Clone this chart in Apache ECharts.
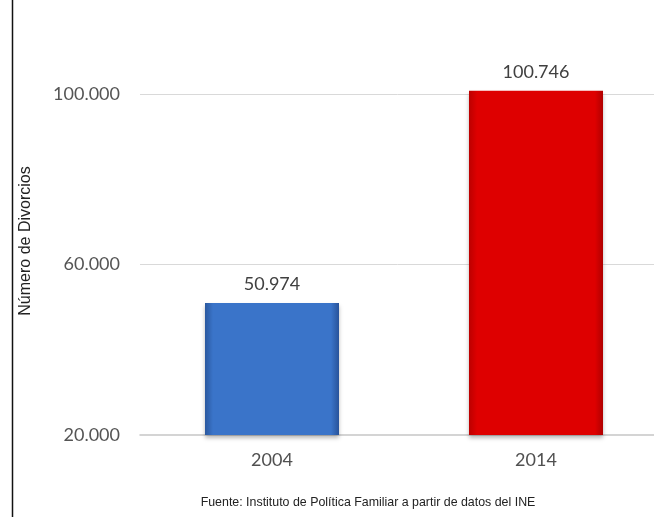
<!DOCTYPE html>
<html>
<head>
<meta charset="utf-8">
<script src="https://cdn.jsdelivr.net/npm/echarts@6/dist/echarts.min.js"></script>
<style>
html,body{margin:0;padding:0;background:#fff;}
#chart{width:654px;height:517px;}
</style>
</head>
<body>
<div id="chart"></div>
<script>
// Data
const categories = ['2004', '2014'];
const divorces = [50974, 100746];
const barColors = [
  ['#2a589e', '#3a74c9', '#3a74c9', '#28539a'],
  ['#bc0000', '#de0000', '#de0000', '#b00000']
];
const yTicks = [20000, 60000, 100000];
const yTitle = 'Número de Divorcios';
const sourceText = 'Fuente: Instituto de Política Familiar a partir de datos del INE';

function fmt(v) {
  return String(Math.round(v)).replace(/\B(?=(\d{3})+(?!\d))/g, '.');
}

const chart = echarts.init(document.getElementById('chart'));
const seriesData = divorces.map((v, i) => ({
  value: v,
  itemStyle: {
    color: new echarts.graphic.LinearGradient(0, 0, 1, 0, [
      {offset: 0, color: barColors[i][0]},
      {offset: 0.06, color: barColors[i][1]},
      {offset: 0.94, color: barColors[i][2]},
      {offset: 1, color: barColors[i][3]}
    ])
  }
}));

chart.setOption({
  animation: false,
  backgroundColor: '#ffffff',
  grid: {left: 140, top: 8.75, width: 528, bottom: 82, containLabel: false, outerBoundsMode: 'none'},
  xAxis: {
    type: 'category',
    data: categories,
    axisLine: {show: true, lineStyle: {color: '#c6c6c6', width: 1.5}},
    axisTick: {show: false},
    axisLabel: {fontFamily: 'Lato', fontSize: 18, color: '#505050', margin: 16}
  },
  yAxis: {
    type: 'value',
    min: yTicks[0],
    max: 120000,
    interval: yTicks[1] - yTicks[0],
    axisLine: {show: false},
    axisTick: {show: false},
    axisLabel: {
      fontFamily: 'Lato', fontSize: 18, color: '#555555', margin: 20,
      showMaxLabel: false,
      formatter: fmt
    },
    splitLine: {show: true, showMaxLine: false, showMinLine: false, lineStyle: {color: '#d9d9d9', width: 1}}
  },
  graphic: [
    {
      type: 'line', silent: true,
      shape: {x1: 12.5, y1: 0, x2: 12.5, y2: 517},
      style: {stroke: '#111', lineWidth: 1.5}
    },
    {
      type: 'text', silent: true,
      x: 26, y: 241, rotation: Math.PI / 2,
      style: {text: yTitle, fontFamily: 'Liberation Sans, Arial', fontSize: 16, fill: '#222',
              align: 'center', verticalAlign: 'middle'}
    },
    {
      type: 'text', silent: true,
      x: 368, y: 503,
      style: {text: sourceText, fontFamily: 'Liberation Sans, Arial', fontSize: 12.4, fill: '#222',
              align: 'center', verticalAlign: 'middle'}
    }
  ],
  series: [{
    type: 'bar',
    data: seriesData,
    barWidth: 134,
    itemStyle: {
      shadowColor: 'rgba(0,0,0,0.28)',
      shadowBlur: 4,
      shadowOffsetY: 3
    },
    label: {
      show: true,
      position: 'top',
      distance: 10,
      fontFamily: 'Lato',
      fontSize: 18,
      color: '#404040',
      formatter: p => fmt(p.value)
    }
  }]
});
</script>
</body>
</html>
